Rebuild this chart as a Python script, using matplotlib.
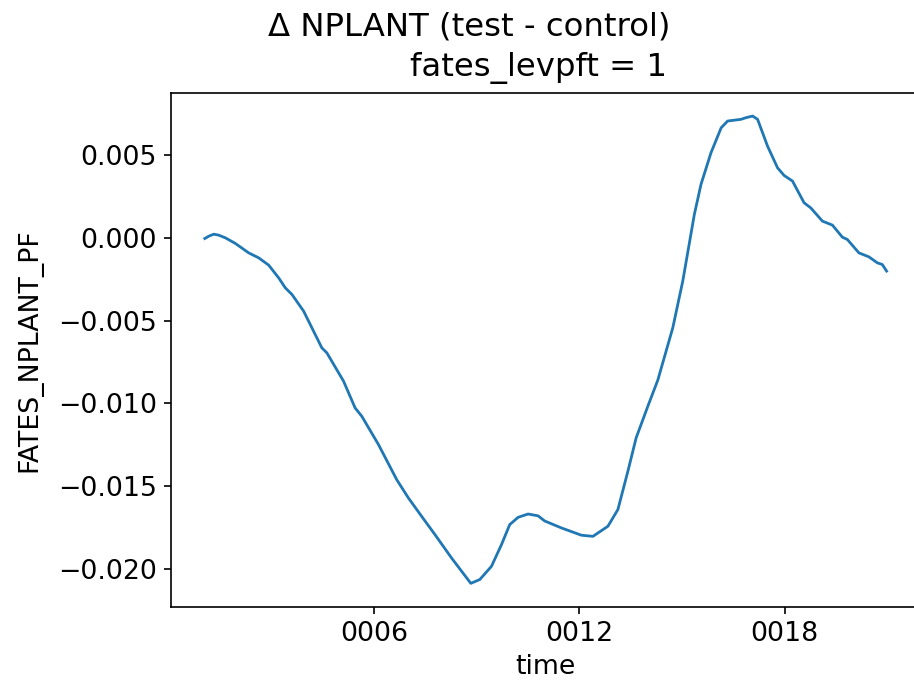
import matplotlib
matplotlib.use("Agg")
import matplotlib.pyplot as plt
from matplotlib.ticker import MultipleLocator, FixedLocator, FixedFormatter

# time in model years (fractional), values of FATES_NPLANT_PF difference
time_years = [1.036, 1.153, 1.299, 1.445, 1.638, 1.930, 2.321, 2.613, 2.905, 3.197,
              3.390, 3.585, 3.927, 4.266, 4.461, 4.607, 5.095, 5.434, 5.629, 6.117,
              6.651, 6.993, 7.381, 7.769, 8.257, 8.820, 9.083, 9.425, 9.717, 9.959,
              10.204, 10.496, 10.788, 10.981, 11.469, 12.053, 12.394, 12.832, 13.124, 13.416,
              13.658, 14.000, 14.292, 14.730, 15.022, 15.361, 15.556, 15.848, 16.146, 16.336,
              16.724, 16.870, 17.066, 17.212, 17.504, 17.796, 17.988, 18.234, 18.572, 18.768,
              19.109, 19.401, 19.693, 19.839, 20.178, 20.470, 20.715, 20.861, 20.987]
nplant_diff = [-0.00004, 0.00010, 0.00022, 0.00016, 0.00000, -0.00034, -0.00091, -0.00121, -0.00165, -0.00242,
               -0.00302, -0.00342, -0.00443, -0.00584, -0.00665, -0.00695, -0.00866, -0.01028, -0.01078, -0.01249,
               -0.01461, -0.01572, -0.01683, -0.01793, -0.01935, -0.02088, -0.02065, -0.01985, -0.01854, -0.01733,
               -0.01689, -0.01669, -0.01680, -0.01711, -0.01753, -0.01797, -0.01804, -0.01743, -0.01642, -0.01411,
               -0.01209, -0.01018, -0.00860, -0.00544, -0.00262, 0.00141, 0.00323, 0.00514, 0.00665, 0.00706,
               0.00716, 0.00726, 0.00736, 0.00716, 0.00554, 0.00423, 0.00377, 0.00343, 0.00212, 0.00181,
               0.00101, 0.00077, 0.00004, -0.00010, -0.00091, -0.00115, -0.00151, -0.00161, -0.00201]

xtick_pos = [6, 12, 18]
xtick_labels = ["0006", "0012", "0018"]

fig = plt.figure(figsize=(9.14, 6.81), dpi=100)
ax = fig.add_axes([0.1868, 0.1091, 1.0073 - 0.1868, 0.8639 - 0.1091])

ax.plot(time_years, nplant_diff, color="#1f77b4", linewidth=2.0)

ax.xaxis.set_major_locator(FixedLocator(xtick_pos))
ax.xaxis.set_major_formatter(FixedFormatter(xtick_labels))
ax.yaxis.set_major_locator(MultipleLocator(0.005))

for s in ax.spines.values():
    s.set_linewidth(1.2)
ax.tick_params(axis="both", labelsize=19.3, length=5, width=1.2)
ax.tick_params(axis="x", pad=5)
ax.tick_params(axis="y", pad=5)

ax.set_xlabel("time", fontsize=19.3, labelpad=5)
ax.set_ylabel("FATES_NPLANT_PF", fontsize=19.3, labelpad=11)
ax.set_title("fates_levpft = 1", fontsize=23.3, pad=12, x=0.4904)
fig.text(0.5137, 1 - 36 / 681, "Δ NPLANT (test - control)", fontsize=23.3,
         ha="center", va="baseline")

fig.savefig("out.png", dpi=100)
